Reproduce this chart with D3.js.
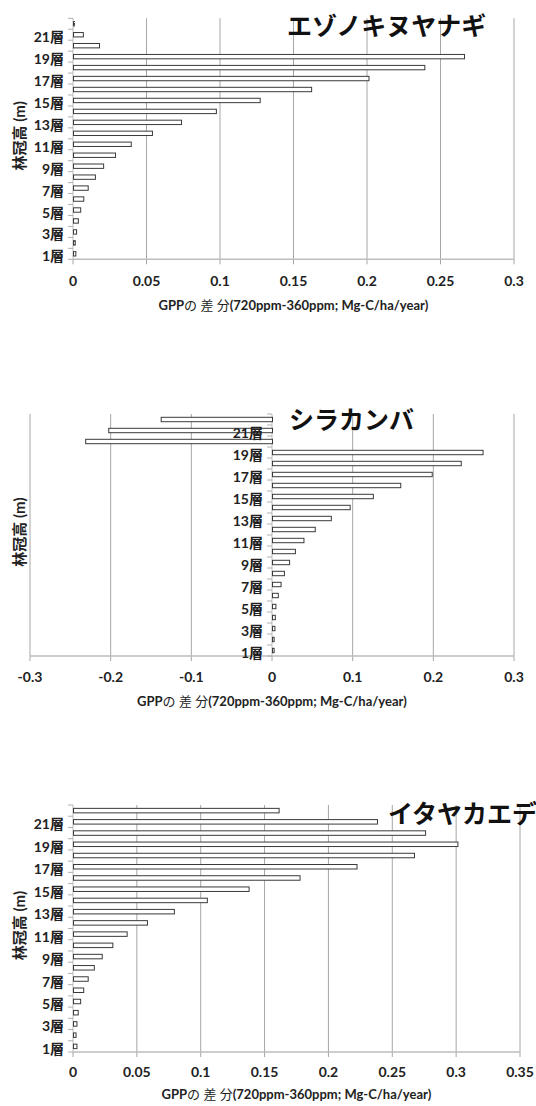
<!DOCTYPE html>
<html>
<head>
<meta charset="utf-8">
<script src="https://cdn.jsdelivr.net/npm/d3@7"></script>
<style>
  html, body { margin: 0; padding: 0; background: #fff; }
  svg { display: block; }
  text { font-family: Lato, "Noto Sans CJK JP", sans-serif; }
</style>
</head>
<body>
<script>
// Canopy layers, bottom (1層) to top (22層)
const layers = ["1層","2層","3層","4層","5層","6層","7層","8層","9層","10層","11層",
                "12層","13層","14層","15層","16層","17層","18層","19層","20層","21層","22層"];
const labelledLayers = ["1層","3層","5層","7層","9層","11層","13層","15層","17層","19層","21層"];

// GPP difference per layer (720ppm - 360ppm), Mg-C/ha/year
const ezonokiValues = [0.0016, 0.0012, 0.0021, 0.0033, 0.0049, 0.0070, 0.0100, 0.0149, 0.0205, 0.0286, 0.0393,
                       0.0537, 0.0735, 0.0972, 0.1270, 0.1620, 0.2010, 0.2390, 0.2660, 0.0177, 0.0067, 0.0007];
const shirakanbaValues = [0.0020, 0.0020, 0.0030, 0.0035, 0.0042, 0.0072, 0.0106, 0.0148, 0.0212, 0.0284, 0.0390,
                          0.0530, 0.0729, 0.0963, 0.1250, 0.1590, 0.1980, 0.2340, 0.2610, -0.2316, -0.2030, -0.1380];
const itayaValues = [0.0027, 0.0020, 0.0027, 0.0037, 0.0056, 0.0080, 0.0115, 0.0163, 0.0225, 0.0308, 0.0420,
                     0.0579, 0.0790, 0.1048, 0.1375, 0.1774, 0.2220, 0.2670, 0.3010, 0.2757, 0.2380, 0.1610];

// Axis ticks
const ticksEzonoki = [0, 0.05, 0.1, 0.15, 0.2, 0.25, 0.3];
const ticksShirakanba = [-0.3, -0.2, -0.1, 0, 0.1, 0.2, 0.3];
const ticksItaya = [0, 0.05, 0.1, 0.15, 0.2, 0.25, 0.3, 0.35];

const titles = ["エゾノキヌヤナギ", "シラカンバ", "イタヤカエデ"];
const xTitleParts = [["GPP", 700], ["の 差 分", 400], ["(720ppm-360ppm; Mg-C/ha/year)", 700]];
const yTitle = "林冠高 (m)";

const W = 536, H = 1106;
const svg = d3.select("body").append("svg").attr("width", W).attr("height", H);

const panels = [
  { values: ezonokiValues, ticks: ticksEzonoki, title: titles[0],
    x0: 73, x1: 514, top: 18.3, bottom: 259.3, titleX: 287, titleY: 25,
    tickLabelY: 280, xTitleY: 305 },
  { values: shirakanbaValues, ticks: ticksShirakanba, title: titles[1],
    x0: 30, x1: 514, top: 414, bottom: 656, titleX: 289, titleY: 419,
    tickLabelY: 676, xTitleY: 701 },
  { values: itayaValues, ticks: ticksItaya, title: titles[2],
    x0: 73, x1: 520, top: 805, bottom: 1052, titleX: 388, titleY: 813,
    tickLabelY: 1071, xTitleY: 1094 }
];

const fmt = d => d3.format("~g")(d).replace("\u2212", "-");

panels.forEach(p => {
  const g = svg.append("g");
  const domain = [p.ticks[0], p.ticks[p.ticks.length - 1]];
  const x = d3.scaleLinear().domain(domain).range([p.x0, p.x1]);
  const y = d3.scaleBand().domain(layers.slice().reverse())
    .range([p.top, p.bottom]).paddingInner(0.6).paddingOuter(0.3);
  const step = y.step();
  const zeroX = x(0);

  // vertical gridlines (none on the zero line, which is the category axis)
  g.append("g").selectAll("line")
    .data(p.ticks.filter(t => t !== 0))
    .join("line")
    .attr("x1", d => x(d)).attr("x2", d => x(d))
    .attr("y1", p.top).attr("y2", p.bottom + 5)
    .attr("stroke", "#a6a6a6").attr("stroke-width", 1);

  // x axis line and its tick at zero
  g.append("line")
    .attr("x1", p.x0).attr("x2", p.x1).attr("y1", p.bottom).attr("y2", p.bottom)
    .attr("stroke", "#bdbdbd").attr("stroke-width", 1.5);
  g.append("line")
    .attr("x1", zeroX).attr("x2", zeroX).attr("y1", p.bottom).attr("y2", p.bottom + 5)
    .attr("stroke", "#a6a6a6").attr("stroke-width", 1);

  // category axis at zero with tick marks on the band boundaries
  g.append("line")
    .attr("x1", zeroX).attr("x2", zeroX).attr("y1", p.top).attr("y2", p.bottom)
    .attr("stroke", "#c8c8c8").attr("stroke-width", 1.2);
  const boundaries = layers.map(l => y(l) - step * 0.3).concat([p.bottom]);
  g.append("g").selectAll("line")
    .data(boundaries)
    .join("line")
    .attr("x1", zeroX - 5).attr("x2", zeroX)
    .attr("y1", d => d).attr("y2", d => d)
    .attr("stroke", "#b0b0b0").attr("stroke-width", 1);

  // bars
  g.append("g").selectAll("rect")
    .data(p.values.map((v, i) => ({ layer: layers[i], v })))
    .join("rect")
    .attr("x", d => Math.min(x(d.v), zeroX) + 0.5)
    .attr("y", d => y(d.layer))
    .attr("width", d => Math.max(Math.abs(x(d.v) - zeroX), 0.8))
    .attr("height", y.bandwidth())
    .attr("fill", "#fff")
    .attr("stroke", "#3a3a3a").attr("stroke-width", 1);

  // category labels
  g.append("g").selectAll("text")
    .data(labelledLayers)
    .join("text")
    .attr("x", zeroX - 9)
    .attr("y", d => y(d) + y.bandwidth() / 2 + 2)
    .attr("text-anchor", "end")
    .attr("dominant-baseline", "central")
    .attr("font-size", 14).attr("font-weight", 700).attr("fill", "#222")
    .text(d => d);

  // value tick labels
  g.append("g").selectAll("text")
    .data(p.ticks)
    .join("text")
    .attr("x", d => x(d))
    .attr("y", p.tickLabelY)
    .attr("text-anchor", "middle")
    .attr("dominant-baseline", "central")
    .attr("font-size", 14).attr("font-weight", 700).attr("fill", "#222")
    .text(fmt);

  // value axis title
  const xt = g.append("text")
    .attr("x", (p.x0 + p.x1) / 2)
    .attr("y", p.xTitleY)
    .attr("text-anchor", "middle")
    .attr("dominant-baseline", "central")
    .attr("font-size", 13).attr("fill", "#222");
  xTitleParts.forEach(([s, w]) => xt.append("tspan").attr("font-weight", w).text(s));

  // category axis title
  g.append("text")
    .attr("transform", `translate(19,${(p.top + p.bottom) / 2 - 3}) rotate(-90)`)
    .attr("text-anchor", "middle")
    .attr("dominant-baseline", "central")
    .attr("font-size", 15).attr("font-weight", 700).attr("fill", "#222")
    .text(yTitle);

  // species title
  g.append("text")
    .attr("x", p.titleX).attr("y", p.titleY)
    .attr("dominant-baseline", "central")
    .attr("font-family", "'Noto Sans CJK JP', sans-serif")
    .attr("font-size", 25).attr("font-weight", 700).attr("fill", "#111")
    .text(p.title);
});
</script>
</body>
</html>
